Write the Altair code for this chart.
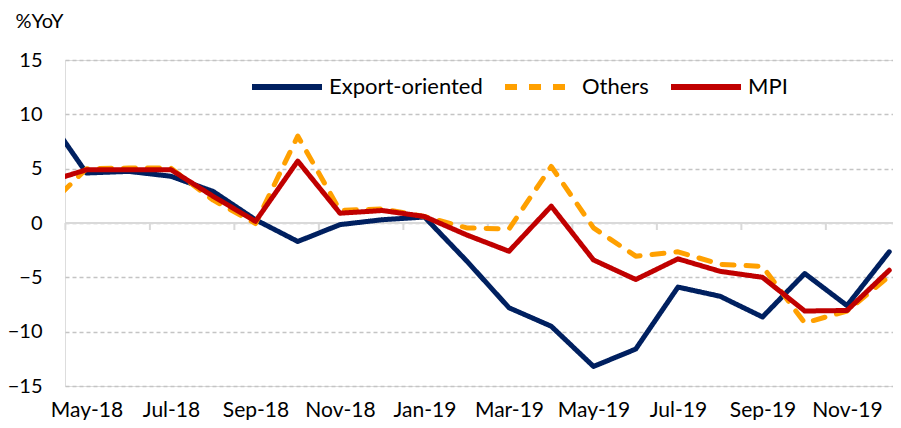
import altair as alt
import pandas as pd

# Monthly categories (Apr-18 lies just outside the visible left edge)
months = ["Apr-18", "May-18", "Jun-18", "Jul-18", "Aug-18", "Sep-18", "Oct-18", "Nov-18",
          "Dec-18", "Jan-19", "Feb-19", "Mar-19", "Apr-19", "May-19", "Jun-19", "Jul-19",
          "Aug-19", "Sep-19", "Oct-19", "Nov-19", "Dec-19"]

export_oriented = [10.2, 4.6, 4.75, 4.3, 2.9, 0.3, -1.7, -0.15, 0.3, 0.55, -3.5, -7.8,
                   -9.5, -13.2, -11.6, -5.9, -6.75, -8.65, -4.65, -7.6, -2.65]
others = [1.2, 5.0, 5.05, 5.05, 2.1, -0.05, 8.0, 1.15, 1.3, 0.6, -0.45, -0.55,
          5.2, -0.45, -3.05, -2.65, -3.8, -4.0, -9.2, -8.1, -4.9]
mpi = [3.7, 4.9, 4.9, 4.9, 2.45, 0.15, 5.7, 0.9, 1.15, 0.6, -1.1, -2.6,
       1.55, -3.4, -5.2, -3.3, -4.45, -5.0, -8.1, -8.05, -4.35]

series_names = ["Export-oriented", "Others", "MPI"]
series_colors = ["#002060", "#FFA000", "#C00000"]
series_dash = [[1, 0], [12, 12], [1, 0]]

y_ticks = [-15, -10, -5, 0, 5, 10, 15]

rows = []
for name, vals in zip(series_names, [export_oriented, others, mpi]):
    for k, (m, v) in enumerate(zip(months, vals)):
        rows.append({"series": name, "month": m, "idx": k - 1, "value": v})
df = pd.DataFrame(rows)

label_values = list(range(0, 19, 2))
label_expr = "[" + ",".join("'%s'" % m for m in months[1:]) + "][datum.value]"
tick_df = pd.DataFrame({"idx": [i - 0.5 for i in range(0, 20, 2)]})

x_scale = alt.Scale(domain=[-0.509, 19.089], nice=False, zero=False)
y_scale = alt.Scale(domain=[-15, 15], nice=False)
FONT = "Lato"

color = alt.Color("series:N",
                  scale=alt.Scale(domain=series_names, range=series_colors),
                  legend=alt.Legend(title=None, orient="none", legendX=184, legendY=-11,
                                    direction="horizontal", symbolType="stroke",
                                    symbolSize=4900, symbolStrokeWidth=6,
                                    labelFontSize=22, labelFont=FONT, labelColor="#000000",
                                    labelOffset=4, columnPadding=10, padding=0))
dash = alt.StrokeDash("series:N",
                      scale=alt.Scale(domain=series_names, range=series_dash),
                      legend=alt.Legend(title=None))

x_enc = alt.X("idx:Q", scale=x_scale,
              axis=alt.Axis(values=label_values, labelExpr=label_expr, title=None,
                            grid=False, domain=False, ticks=False, tickSize=0,
                            labelPadding=30, labelBaseline="alphabetic",
                            labelFontSize=21, labelFont=FONT,
                            labelColor="#000000", labelFlush=False))
y_enc = alt.Y("value:Q", scale=y_scale,
              axis=alt.Axis(values=y_ticks, title="%YoY", titleAngle=0, titleAlign="left",
                            titleBaseline="middle", titleX=-50, titleY=-39,
                            titleFontSize=20, titleFont=FONT, titleFontWeight="normal",
                            titleColor="#000000",
                            domain=False, ticks=False, labelPadding=23,
                            labelFontSize=20, labelFont=FONT, labelColor="#000000",
                            grid=True, gridDash=[4, 3], gridColor="#c4c4c4", gridWidth=1.5))

zero_line = alt.Chart(tick_df).mark_rule(color="#d9d9d9", strokeWidth=2).encode(
    y=alt.datum(0, scale=y_scale)
)
ticks = alt.Chart(tick_df).mark_rule(color="#d9d9d9", strokeWidth=2, y2Offset=7).encode(
    x=alt.X("idx:Q", scale=x_scale),
    y=alt.datum(0, scale=y_scale),
    y2=alt.datum(0),
)

lines = []
for name in series_names:
    lines.append(
        alt.Chart(df).transform_filter(alt.datum.series == name)
        .mark_line(strokeWidth=5, clip=True, strokeCap="round", strokeJoin="round")
        .encode(x=x_enc, y=y_enc, color=color, strokeDash=dash)
    )

chart = alt.layer(zero_line, ticks, *lines).properties(
    width=828, height=326,
    autosize=alt.AutoSizeParams(type="none"),
    padding={"left": 57, "top": 52, "right": 0, "bottom": 34},
).configure_view(stroke=None).configure(background="white")

chart.save("out.html", embed_options={"renderer": "svg", "actions": False})
